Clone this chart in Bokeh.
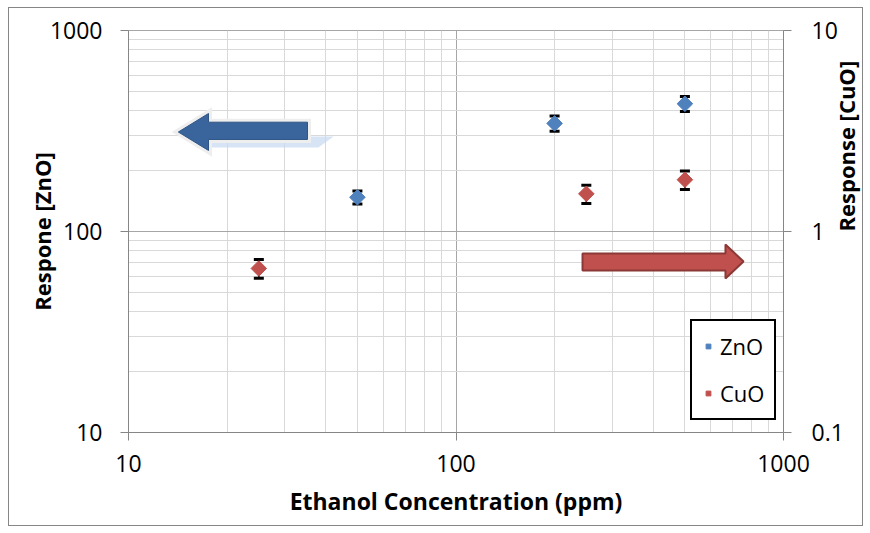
import numpy as np
from bokeh.plotting import figure
from bokeh.models import (Range1d, LogScale, LogAxis, FixedTicker, CustomJSTickFormatter,
                          Legend, LegendItem, InlineStyleSheet)
from bokeh.embed import file_html
from bokeh.resources import INLINE

# ---- data ----
conc_zno = [50, 200, 500]
resp_zno = [148, 345, 432]
err_zno = [11, 30, 37]

conc_cuo = [25, 250, 500]
resp_cuo = [0.655, 1.54, 1.81]
err_cuo = [0.07, 0.16, 0.19]

x_ticks = [10, 100, 1000]
x_minor = [20, 30, 40, 50, 60, 70, 80, 90, 200, 300, 400, 500, 600, 700, 800, 900]
y_ticks = [10, 100, 1000]
y_minor = [20, 30, 40, 50, 60, 70, 80, 90, 200, 300, 400, 500, 600, 700, 800, 900]
y2_ticks = [0.1, 1, 10]

# decorative arrows (data coordinates, left axis)
blue_arrow_x = [14.2, 17.55, 17.55, 35.2, 35.2, 17.55, 17.55]
blue_arrow_y = [312.6, 386.5, 349.8, 349.8, 287.0, 287.0, 253.0]
blue_refl_x = [17.55, 42.3, 38.0, 17.55]
blue_refl_y = [297.0, 297.0, 261.7, 261.7]
red_arrow_x = [243.4, 665.0, 665.0, 755.0, 665.0, 665.0, 243.4]
red_arrow_y = [77.7, 77.7, 86.1, 70.9, 58.3, 64.0, 64.0]

BLUE = "#4f81bd"
RED = "#c0504d"
AXIS = "#868686"
FONT = "Open Sans"

p = figure(x_axis_type="log", y_axis_type="log",
           x_range=Range1d(10, 1000), y_range=Range1d(10, 1000),
           frame_width=655, frame_height=402,
           min_border_left=128, min_border_right=87,
           min_border_top=30, min_border_bottom=101,
           output_backend="svg", toolbar_location=None,
           background_fill_color="white", border_fill_color="white")
p.outline_line_color = "#a6a6a6"

# outer chart-area border drawn by CSS on top of the canvas
p.stylesheets = [InlineStyleSheet(css="""
:host { position: relative; }
:host::after {
  content: "";
  position: absolute;
  left: 8px; top: 7px; width: 855px; height: 519px;
  box-sizing: border-box;
  border: 1px solid #868686;
  pointer-events: none;
  z-index: 1000;
}
""")]

fmt = CustomJSTickFormatter(code="return tick.toString();")

xt = FixedTicker(ticks=x_ticks, minor_ticks=x_minor)
yt = FixedTicker(ticks=y_ticks, minor_ticks=y_minor)
p.xaxis.ticker = xt
p.xgrid.ticker = xt
p.yaxis.ticker = yt
p.ygrid.ticker = yt

for g in (p.xgrid, p.ygrid):
    g.grid_line_color = "#a6a6a6"
    g.grid_line_width = 1
    g.minor_grid_line_color = "#d9d9d9"
    g.minor_grid_line_width = 1

p.extra_y_ranges = {"cuo": Range1d(0.1, 10)}
p.extra_y_scales = {"cuo": LogScale()}
ax2 = LogAxis(y_range_name="cuo", ticker=FixedTicker(ticks=y2_ticks))
p.add_layout(ax2, "right")

for ax in (p.xaxis[0], p.yaxis[0], ax2):
    ax.formatter = fmt
    ax.axis_line_color = AXIS
    ax.major_tick_line_color = AXIS
    ax.major_tick_out = 8
    ax.major_tick_in = 0
    ax.minor_tick_line_color = None
    ax.major_label_text_font = FONT
    ax.major_label_text_font_size = "23px"
    ax.major_label_text_color = "black"
    ax.axis_label_text_font = FONT
    ax.axis_label_text_font_size = "22px"
    ax.axis_label_text_font_style = "bold"
    ax.axis_label_text_color = "black"

p.xaxis.axis_label = "Ethanol Concentration (ppm)"
p.xaxis.axis_label_text_font_size = "23px"
p.yaxis.axis_label = "Respone [ZnO]"
ax2.axis_label = "Response [CuO]"
ax2.axis_label_orientation = np.pi / 2
p.xaxis.major_label_standoff = 14
p.yaxis.major_label_standoff = 18
ax2.major_label_standoff = 20
p.xaxis.axis_label_standoff = 10
p.yaxis.axis_label_standoff = -10
ax2.axis_label_standoff = -1

# arrows
p.patch(blue_refl_x, blue_refl_y, fill_color="#c6d9f1", fill_alpha=0.7, line_color=None)
p.patch(blue_arrow_x, blue_arrow_y, fill_color=None, line_color="#eeeeee", line_width=7, line_join="miter")
p.patch(blue_arrow_x, blue_arrow_y, fill_color="#3a659c", line_color="#2f5585", line_width=1)
p.patch(red_arrow_x, red_arrow_y, fill_color=RED, line_color="#8c3836", line_width=2)

# error bars
zl = [v - e for v, e in zip(resp_zno, err_zno)]
zh = [v + e for v, e in zip(resp_zno, err_zno)]
cl = [v - e for v, e in zip(resp_cuo, err_cuo)]
ch = [v + e for v, e in zip(resp_cuo, err_cuo)]
p.segment(conc_zno, zl, conc_zno, zh, line_color="black", line_width=1.5)
p.segment(conc_cuo, cl, conc_cuo, ch, line_color="black", line_width=1.5, y_range_name="cuo")
p.scatter(conc_zno + conc_zno, zl + zh, marker="dash", size=10, line_width=3, line_color="black")
p.scatter(conc_cuo + conc_cuo, cl + ch, marker="dash", size=10, line_width=3, line_color="black",
          y_range_name="cuo")

# points
rz = p.scatter(conc_zno, resp_zno, marker="square", angle=np.pi / 4, size=11,
               fill_color=BLUE, line_color=BLUE)
rc = p.scatter(conc_cuo, resp_cuo, marker="square", angle=np.pi / 4, size=11,
               fill_color=RED, line_color=RED, y_range_name="cuo")

legend = Legend(items=[LegendItem(label="ZnO", renderers=[rz]),
                       LegendItem(label="CuO", renderers=[rc])],
                location=(562, 12))
legend.border_line_color = "black"
legend.border_line_width = 2
legend.border_line_alpha = 1
legend.background_fill_color = "white"
legend.background_fill_alpha = 1
legend.label_text_font = FONT
legend.label_text_font_size = "22px"
legend.label_text_color = "black"
legend.padding = 10
legend.margin = 0
legend.spacing = 17
legend.label_height = 22
legend.glyph_height = 22
legend.glyph_width = 12
legend.label_standoff = 6
p.add_layout(legend)

open("out.html", "w").write(file_html(p, INLINE))
